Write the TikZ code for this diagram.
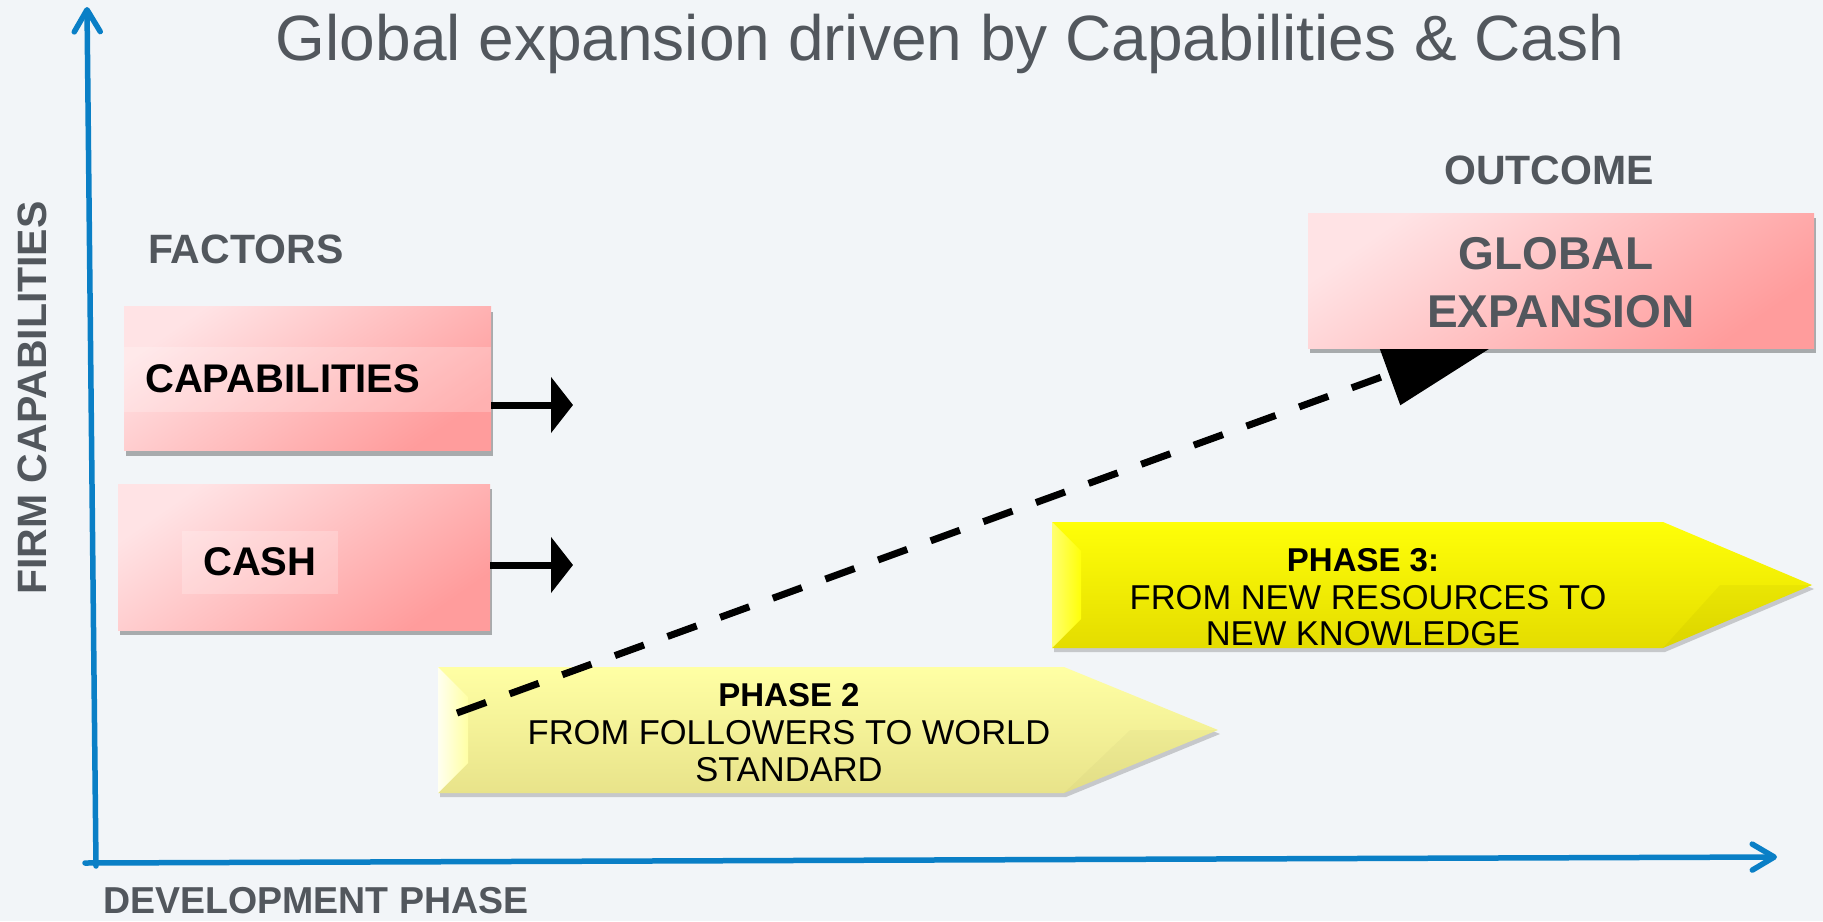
\documentclass[tikz,border=0pt]{standalone}
\usepackage{fontspec}
\setmainfont{Liberation Sans}
\usetikzlibrary{arrows.meta,shadows}
\definecolor{bgc}{HTML}{F2F5F8}
\definecolor{axisblue}{HTML}{0A7FC6}
\definecolor{txtgray}{HTML}{52575D}
\definecolor{pinkA}{HTML}{FFE3E5}
\definecolor{pinkB}{HTML}{FF9C9C}
\definecolor{ylA}{HTML}{FFFFA4}
\definecolor{ylB}{HTML}{E8E38A}
\definecolor{ylW}{HTML}{FFFFF0}
\definecolor{yhA}{HTML}{FFFF08}
\definecolor{yhB}{HTML}{E4DC00}
\definecolor{yhW}{HTML}{FFFF70}
\begin{document}
\begin{tikzpicture}[x=1pt,y=-1pt,
  axisline/.style={draw=axisblue,line width=5.5pt,line cap=round,
    -{Straight Barb[round,length=22pt,width=26pt]}},
  lab/.style={font=\fontsize{41pt}{49pt}\selectfont\bfseries,text=txtgray,inner sep=0pt},
  boxtxt/.style={font=\fontsize{40pt}{48pt}\selectfont\bfseries,text=black,inner sep=0pt},
  gtxt/.style={font=\fontsize{46pt}{55pt}\selectfont\bfseries,text=txtgray,inner sep=0pt},
  phtitle/.style={font=\fontsize{33pt}{40pt}\selectfont\bfseries,text=black,inner sep=0pt},
  phtxt/.style={font=\fontsize{34.5pt}{40pt}\selectfont,text=black,inner sep=0pt},
  pinkbox/.style={shade,top color=pinkA,bottom color=pinkB,shading angle=35,
    drop shadow={shadow xshift=2pt,shadow yshift=-5pt,fill=black,opacity=0.3},
    inner sep=0pt},
  softshadow/.style={drop shadow={shadow xshift=2pt,shadow yshift=-4pt,fill=black,opacity=0.18}},
  factarrow/.style={line width=7pt,-{Triangle[length=22pt,width=55pt]}},
  dasharrow/.style={line width=7pt,dash pattern=on 31pt off 25pt,
    -{Triangle[length=150pt,width=64pt]}}
]
\useasboundingbox (0,0) rectangle (1823,921);
\fill[bgc] (0,0) rectangle (1823,921);

% title
\node[anchor=base,font=\fontsize{64pt}{77pt}\selectfont,text=txtgray,inner sep=0pt] (title)
  at (950,60) {Global expansion driven by Capabilities \& Cash};

% axes
\coordinate (yorig) at (96,866);
\coordinate (ytop) at (87,7);
\coordinate (xorig) at (85,863);
\coordinate (xend) at (1777,857);
\draw[axisline] (yorig) -- (ytop);
\draw[axisline] (xorig) -- (xend);

\node[lab,rotate=90] (ylab) at (32,398) {FIRM CAPABILITIES};
\node[lab,anchor=base west,font=\fontsize{37.5pt}{45pt}\selectfont\bfseries] (xlab) at (103,913) {DEVELOPMENT PHASE};
\node[lab,anchor=base west] (factors) at (148,263) {FACTORS};
\node[lab,anchor=base west] (outcome) at (1444,184) {OUTCOME};

% phase 2 arrow
\path[softshadow,shade,top color=ylA,bottom color=ylB]
  (438,667) -- (1064,667) -- (1218,730) -- (1064,793) -- (438,793) -- cycle;
\path[shade,left color=ylW,right color=ylA]
  (438,667) -- (468,697) -- (468,763) -- (438,793) -- cycle;
\fill[black,opacity=0.025] (1064,793) -- (1218,730) -- (1130,730) -- cycle;
\node[phtitle,anchor=base] (p2a) at (789,706) {PHASE 2};
\node[phtxt,anchor=base] (p2b) at (789,744) {FROM FOLLOWERS TO WORLD};
\node[phtxt,anchor=base] (p2c) at (789,781) {STANDARD};

% phase 3 arrow
\path[softshadow,shade,top color=yhA,bottom color=yhB]
  (1052,522) -- (1663,522) -- (1812,585) -- (1663,648) -- (1052,648) -- cycle;
\path[shade,left color=yhW,right color=yhA]
  (1052,522) -- (1081,551) -- (1081,619) -- (1052,648) -- cycle;
\fill[black,opacity=0.03] (1663,648) -- (1812,585) -- (1720,585) -- cycle;
\node[phtitle,anchor=base] (p3a) at (1363,571) {PHASE 3:};
\node[phtxt,anchor=base] (p3b) at (1368,609) {FROM NEW RESOURCES TO};
\node[phtxt,anchor=base] (p3c) at (1363,645) {NEW KNOWLEDGE};

% factor boxes
\node[pinkbox,minimum width=367pt,minimum height=144pt] (capbox) at (307.5,378.5) {};
\fill[white,opacity=0.22] (124,347) rectangle (491,412);
\node[boxtxt,anchor=base west] (captxt) at (145,392) {CAPABILITIES};

\node[pinkbox,minimum width=372pt,minimum height=146pt] (cashbox) at (304,557) {};
\fill[white,opacity=0.22] (182,531) rectangle (338,594);
\node[boxtxt,anchor=base west] (cashtxt) at (203,575) {CASH};

\coordinate (captip) at (573,405);
\coordinate (cashtip) at (573,565);
\draw[factarrow] (capbox.east |- captip) -- (captip);
\draw[factarrow] (cashbox.east |- cashtip) -- (cashtip);

% dashed trend arrow
\coordinate (dstart) at (457,713);
\coordinate (dend) at (1530,323);
\draw[dasharrow] (dstart) -- (dend);

% outcome box
\node[pinkbox,minimum width=506pt,minimum height=135pt] (gbox) at (1561,280.5) {};
\node[gtxt,anchor=base] (gl1) at (1556,269) {GLOBAL};
\node[gtxt,anchor=base] (gl2) at (1561,327) {EXPANSION};
\end{tikzpicture}
\end{document}
